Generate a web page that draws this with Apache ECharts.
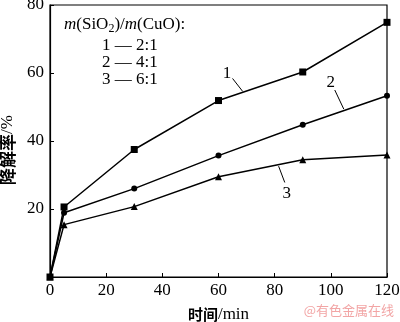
<!DOCTYPE html>
<html>
<head>
<meta charset="utf-8">
<script src="https://cdn.jsdelivr.net/npm/echarts@6/dist/echarts.min.js"></script>
<style>
html,body{margin:0;padding:0;background:#fff;}
#chart{width:400px;height:322px;}
</style>
</head>
<body>
<div id="chart"></div>
<script>
// Reaction time (min) and degradation rate (%) for three SiO2/CuO mass ratios
const times = [0, 5, 30, 60, 90, 120];
const rate1 = [0, 20.6, 37.5, 51.9, 60.3, 74.9];   // 2:1
const rate2 = [0, 18.9, 26.0, 35.7, 44.8, 53.3];   // 4:1
const rate3 = [0, 15.4, 20.7, 29.5, 34.5, 35.9];   // 6:1
const xTicks = [0, 20, 40, 60, 80, 100, 120];
const yTicks = [0, 20, 40, 60, 80];
const curveNames = ['1', '2', '3'];

const serif = '"Liberation Serif", "DejaVu Serif", serif';
const cjk = '"Noto Sans CJK SC", sans-serif';

function pairs(ys) { return times.map((t, i) => [t, ys[i]]); }

// short leader line from a curve number to its curve, in data units
function leader(from, to) {
  return {
    silent: true,
    symbol: 'none',
    label: { show: false },
    lineStyle: { color: '#000', width: 1, type: 'solid' },
    data: [[{ coord: from }, { coord: to }]]
  };
}

function curve(name, ys, symbol, size, note) {
  return {
    name: name,
    type: 'line',
    data: pairs(ys),
    symbol: symbol,
    symbolSize: size,
    showAllSymbol: true,
    itemStyle: { color: '#000' },
    lineStyle: { color: '#000', width: 1.5 },
    z: name === '1' ? 5 : 3,
    markLine: leader(note.from, note.to),
    markPoint: {
      silent: true,
      symbol: 'circle',
      symbolSize: 1,
      itemStyle: { color: 'rgba(0,0,0,0)' },
      label: { show: true, formatter: name, color: '#000', fontFamily: serif, fontSize: 17, position: 'inside' },
      data: [{ coord: note.at }]
    }
  };
}

// axis title: Chinese part in CJK bold, unit part in serif
function titleStyle(cjkSize, extra) {
  return Object.assign({
    color: '#000',
    rich: {
      c: { fontFamily: cjk, fontSize: cjkSize, fontWeight: 'bold', color: '#000' },
      r: { fontFamily: serif, fontSize: 17, color: '#000' }
    }
  }, extra || {});
}

const chart = echarts.init(document.getElementById('chart'), null, { renderer: 'canvas' });

chart.setOption({
  animation: false,
  backgroundColor: '#fff',
  grid: {
    left: 50, right: 13, top: 5, bottom: 45,
    outerBoundsMode: 'none', containLabel: false,
    show: true, borderColor: '#000', borderWidth: 1.2
  },
  xAxis: {
    type: 'value',
    min: xTicks[0], max: xTicks[xTicks.length - 1], interval: 20,
    name: '{c|时间}{r|/min}',
    nameLocation: 'middle',
    nameGap: 29,
    nameTextStyle: titleStyle(15),
    axisLine: { lineStyle: { color: '#000', width: 1.2 } },
    axisTick: { inside: true, length: 4, lineStyle: { color: '#000' } },
    axisLabel: { color: '#000', fontFamily: serif, fontSize: 17, margin: 5 },
    splitLine: { show: false }
  },
  yAxis: {
    type: 'value',
    min: yTicks[0], max: yTicks[yTicks.length - 1], interval: 20,
    name: '{c|降解率}{r|/%}',
    nameLocation: 'middle',
    nameGap: 22,
    nameTextStyle: titleStyle(17, { padding: [0, 18, 0, 0] }),
    axisLine: { lineStyle: { color: '#000', width: 1.2 } },
    axisTick: { inside: true, length: 4, lineStyle: { color: '#000' } },
    axisLabel: { color: '#000', fontFamily: serif, fontSize: 17, margin: 6, showMinLabel: false },
    splitLine: { show: false }
  },
  series: [
    curve(curveNames[0], rate1, 'rect', 7, { at: [63, 59.8], from: [65, 58.4], to: [68.6, 54.6] }),
    curve(curveNames[1], rate2, 'circle', 6, { at: [100, 57.2], from: [101.4, 55], to: [104.6, 49.4] }),
    curve(curveNames[2], rate3, 'triangle', 7, { at: [84.3, 24.6], from: [81.4, 32.6], to: [83.6, 27.8] })
  ],
  graphic: [
    {
      type: 'text', left: 64, top: 16,
      style: {
        text: '{i|m}(SiO{s|2})/{i|m}(CuO):',
        rich: {
          i: { fontFamily: serif, fontStyle: 'italic', fontSize: 17, fill: '#000' },
          s: { fontFamily: serif, fontSize: 12, fill: '#000', padding: [8, 0, 0, 0] }
        },
        font: '17px ' + serif, fill: '#000'
      }
    },
    { type: 'text', left: 102, top: 37, style: { text: '1 — 2:1', font: '17px ' + serif, fill: '#000' } },
    { type: 'text', left: 102, top: 54, style: { text: '2 — 4:1', font: '17px ' + serif, fill: '#000' } },
    { type: 'text', left: 102, top: 71, style: { text: '3 — 6:1', font: '17px ' + serif, fill: '#000' } },
    { type: 'text', right: 6, top: 304, style: { text: '@有色金属在线', font: '13px ' + cjk, fill: '#f2a5a5' } }
  ]
});
</script>
</body>
</html>
